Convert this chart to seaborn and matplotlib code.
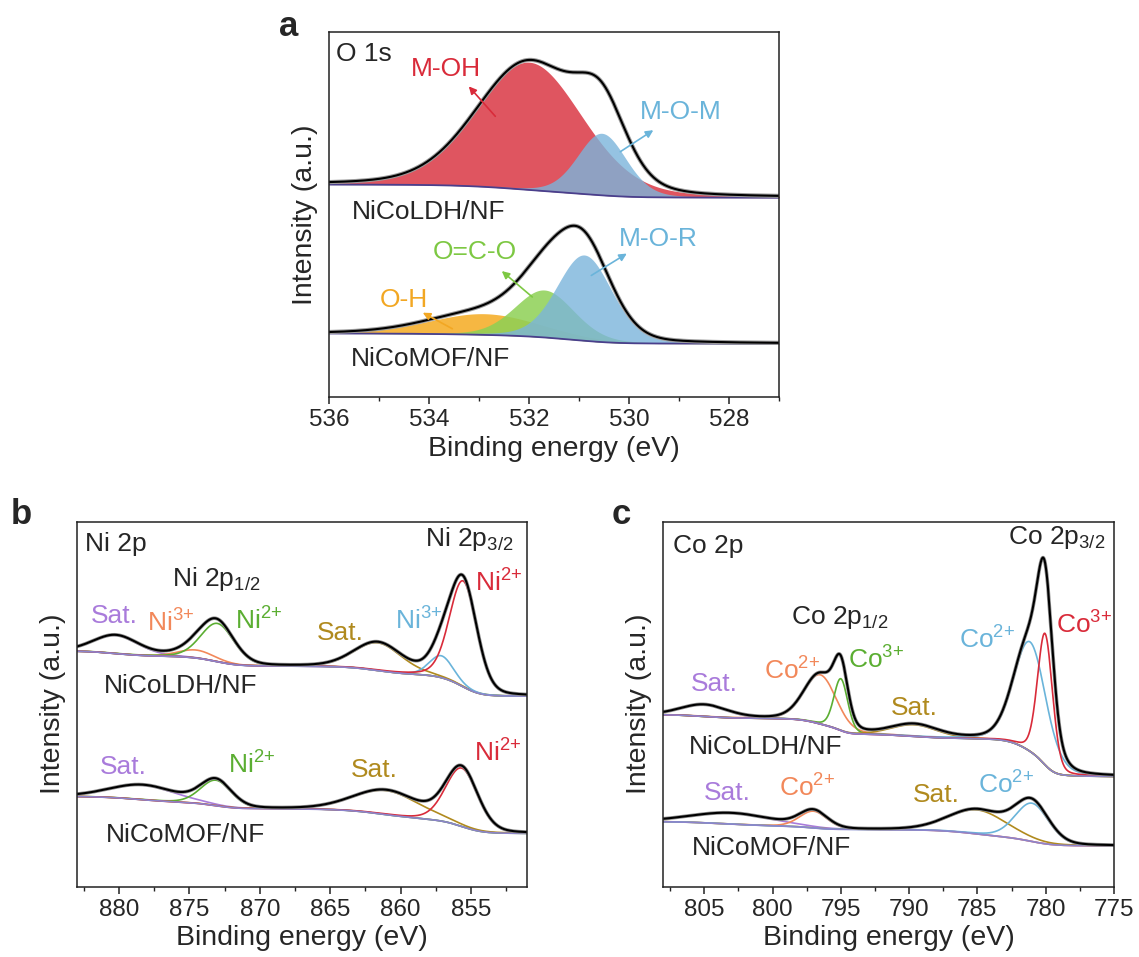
import numpy as np
import pandas as pd
import matplotlib
matplotlib.use("Agg")
import matplotlib.pyplot as plt
import seaborn as sns
from matplotlib.ticker import MultipleLocator

sns.set_theme(style="ticks")
plt.rcParams["font.family"] = ["Liberation Sans", "DejaVu Sans"]
plt.rcParams["mathtext.fontset"] = "custom"
plt.rcParams["mathtext.rm"] = "Liberation Sans"
plt.rcParams["mathtext.it"] = "Liberation Sans"
plt.rcParams["mathtext.bf"] = "Liberation Sans:bold"

# ---------------- data ----------------
# Panel a : O 1s  (centre eV, height, FWHM eV); background [high-BE end, low-BE end]
o1s_ldh_labels = ["M-OH", "M-O-M"]
o1s_ldh_center = [532.0, 530.55]
o1s_ldh_height = [0.35, 0.17]
o1s_ldh_fwhm = [2.5, 1.15]
o1s_ldh_bg = [0.582, 0.546]

o1s_mof_labels = ["O-H", "O=C-O", "M-O-R"]
o1s_mof_center = [532.9, 531.7, 530.9]
o1s_mof_height = [0.058, 0.13, 0.235]
o1s_mof_fwhm = [2.6, 1.4, 1.3]
o1s_mof_bg = [0.174, 0.146]

# Panel b : Ni 2p
ni_ldh_labels = ["Sat.", "Ni3+", "Ni2+", "Sat.", "Ni3+", "Ni2+"]
ni_ldh_center = [880.2, 874.5, 873.0, 861.6, 857.1, 855.55]
ni_ldh_height = [0.05, 0.022, 0.105, 0.076, 0.06, 0.29]
ni_ldh_fwhm = [3.8, 3.0, 2.8, 4.0, 2.0, 2.3]
ni_ldh_bg = [0.645, 0.522]

ni_mof_labels = ["Sat.", "Ni2+", "Sat.", "Ni2+"]
ni_mof_center = [878.3, 873.1, 861.0, 855.65]
ni_mof_height = [0.04, 0.07, 0.066, 0.16]
ni_mof_fwhm = [5.5, 2.6, 5.5, 2.7]
ni_mof_bg = [0.247, 0.146]

# Panel c : Co 2p
co_ldh_labels = ["Sat.", "Co2+", "Co3+", "Sat.", "Co2+", "Co3+"]
co_ldh_center = [805.0, 796.5, 795.0, 789.6, 781.15, 780.05]
co_ldh_height = [0.032, 0.135, 0.142, 0.032, 0.30, 0.36]
co_ldh_fwhm = [4.0, 2.8, 1.2, 4.0, 2.8, 1.3]
co_ldh_bg = [0.471, 0.302]

co_mof_labels = ["Sat.", "Co2+", "Sat.", "Co2+"]
co_mof_center = [803.0, 797.0, 785.0, 781.0]
co_mof_height = [0.03, 0.046, 0.066, 0.105]
co_mof_fwhm = [7.0, 2.4, 5.0, 2.9]
co_mof_bg = [0.178, 0.112]

# ---------------- styles ----------------
C_PURPLE = "#A97BDB"
C_ORANGE = "#F2885A"
C_GREEN = "#5BAE32"
C_OLIVE = "#B08A1E"
C_BLUE = "#6AB4DA"
C_RED = "#D92B3A"
C_BG_A = "#4A3F8C"
C_BG = "#8C84CC"
FILL_RED = "#DE4C57"
FILL_BLUE = "#7BB5DB"
FILL_GREEN = "#8DD055"
FILL_ORANGE = "#F5AF2D"

FS_TICK = 17.5
FS_LABEL = 20.5
FS_TXT = 19


def pv(x, c, h, w, eta=0.2):
    d = (x - c) / w
    return h * ((1 - eta) * np.exp(-4 * np.log(2) * d ** 2) + eta / (1 + 4 * d ** 2))


def build(x, centers, heights, fwhms, bg):
    comps = [pv(x, c, h, w) for c, h, w in zip(centers, heights, fwhms)]
    total = np.sum(comps, axis=0)
    # Shirley-type background (x ascending)
    cum = np.concatenate([[0], np.cumsum((total[1:] + total[:-1]) / 2 * np.diff(x))])
    frac = cum / cum[-1]
    back = bg[1] + (bg[0] - bg[1]) * frac
    return comps, total, back


def line(ax, x, y, color, lw):
    df = pd.DataFrame({"x": x, "y": y})
    sns.lineplot(data=df, x="x", y="y", ax=ax, color=color, lw=lw,
                 sort=False, estimator=None, legend=False)


def style_axis(ax, xlim, major, minor):
    ax.set_xlim(*xlim)
    ax.set_ylim(0, 1)
    ax.xaxis.set_major_locator(MultipleLocator(major))
    ax.xaxis.set_minor_locator(MultipleLocator(minor))
    ax.set_yticks([])
    ax.tick_params(axis="x", which="major", direction="out", length=5, width=1.1,
                   labelsize=FS_TICK, pad=4, color="#222222")
    ax.tick_params(axis="x", which="minor", direction="out", length=2.6, width=1.0,
                   color="#222222")
    for s in ax.spines.values():
        s.set_visible(True)
        s.set_linewidth(1.1)
        s.set_color("#222222")
    ax.set_xlabel("Binding energy (eV)", fontsize=FS_LABEL, labelpad=3)
    ax.set_ylabel("Intensity (a.u.)", fontsize=FS_LABEL, labelpad=8)
    ax.set_facecolor("white")


fig = plt.figure(figsize=(11.39, 9.57), dpi=100)
fig.patch.set_facecolor("white")
W, H = 1139.0, 957.0
ax_a = fig.add_axes([329.3 / W, 1 - 397 / H, 450 / W, 365 / H])
ax_b = fig.add_axes([76.7 / W, 1 - 886.7 / H, 450.6 / W, 365 / H])
ax_c = fig.add_axes([663.3 / W, 1 - 886.7 / H, 450.7 / W, 365 / H])

# ---------------- panel a ----------------
xa = np.linspace(527.0, 536.0, 1200)
for centers, heights, fwhms, bg, fills in [
    (o1s_ldh_center, o1s_ldh_height, o1s_ldh_fwhm, o1s_ldh_bg, [(FILL_RED, 0.95), (FILL_BLUE, 0.8)]),
    (o1s_mof_center, o1s_mof_height, o1s_mof_fwhm, o1s_mof_bg,
     [(FILL_ORANGE, 0.9), (FILL_GREEN, 0.85), (FILL_BLUE, 0.8)]),
]:
    comps, total, back = build(xa, centers, heights, fwhms, bg)
    for comp, (fc, al) in zip(comps, fills):
        ax_a.fill_between(xa, back, back + comp, color=fc, alpha=al, lw=0)
    line(ax_a, xa, back, C_BG_A, 1.3)
    line(ax_a, xa, back + total, "#9a9a9a", 3.0)
    line(ax_a, xa, back + total, "black", 1.5)

style_axis(ax_a, (536, 527), 2, 1)
ta = ax_a.get_xaxis_transform()
ax_a.text(0.016, 0.941, "O 1s", transform=ax_a.transAxes, fontsize=FS_TXT, va="center", ha="left")
ax_a.text(533.66, 0.90, o1s_ldh_labels[0], transform=ta, fontsize=FS_TXT, color=C_RED, ha="center", va="center")
ax_a.text(528.97, 0.781, o1s_ldh_labels[1], transform=ta, fontsize=FS_TXT, color=C_BLUE, ha="center", va="center")
ax_a.text(0.05, 0.507, "NiCoLDH/NF", transform=ax_a.transAxes, fontsize=FS_TXT, ha="left", va="center")
ax_a.text(529.41, 0.434, o1s_mof_labels[2], transform=ta, fontsize=FS_TXT, color=C_BLUE, ha="center", va="center")
ax_a.text(533.09, 0.397, o1s_mof_labels[1], transform=ta, fontsize=FS_TXT, color="#7DC843", ha="center", va="center")
ax_a.text(534.51, 0.265, o1s_mof_labels[0], transform=ta, fontsize=FS_TXT, color="#F2A723", ha="center", va="center")
ax_a.text(0.049, 0.105, "NiCoMOF/NF", transform=ax_a.transAxes, fontsize=FS_TXT, ha="left", va="center")

arrows_a = [
    ((532.68, 0.769), (533.21, 0.851), C_RED),
    ((530.18, 0.672), (529.52, 0.731), C_BLUE),
    ((530.76, 0.333), (530.05, 0.393), C_BLUE),
    ((531.94, 0.274), (532.55, 0.345), "#7DC843"),
    ((533.54, 0.187), (534.13, 0.231), "#F2A723"),
]
for (x0, y0), (x1, y1), col in arrows_a:
    ax_a.annotate("", xy=(x1, y1), xytext=(x0, y0), xycoords=ta, textcoords=ta,
                  arrowprops=dict(arrowstyle="-|>", color=col, lw=1.2, mutation_scale=11,
                                  shrinkA=0, shrinkB=0))

# ---------------- panels b and c ----------------
def draw_panel(ax, x, sets):
    for centers, heights, fwhms, bg, colors in sets:
        comps, total, back = build(x, centers, heights, fwhms, bg)
        for comp, col in zip(comps, colors):
            line(ax, x, back + comp, col, 1.2)
        line(ax, x, back, C_BG, 1.2)
        line(ax, x, back + total, "#8f8f8f", 2.6)
        line(ax, x, back + total, "black", 1.5)


xb = np.linspace(851.0, 883.0, 1600)
draw_panel(ax_b, xb, [
    (ni_ldh_center, ni_ldh_height, ni_ldh_fwhm, ni_ldh_bg,
     [C_PURPLE, C_ORANGE, C_GREEN, C_OLIVE, C_BLUE, C_RED]),
    (ni_mof_center, ni_mof_height, ni_mof_fwhm, ni_mof_bg,
     [C_PURPLE, C_GREEN, C_OLIVE, C_RED]),
])
style_axis(ax_b, (883, 851), 5, 2.5)

xc = np.linspace(775.0, 808.0, 1650)
draw_panel(ax_c, xc, [
    (co_ldh_center, co_ldh_height, co_ldh_fwhm, co_ldh_bg,
     [C_PURPLE, C_ORANGE, C_GREEN, C_OLIVE, C_BLUE, C_RED]),
    (co_mof_center, co_mof_height, co_mof_fwhm, co_mof_bg,
     [C_PURPLE, C_ORANGE, C_OLIVE, C_BLUE]),
])
style_axis(ax_c, (808, 775), 5, 2.5)


def ion(lbl):
    base, num, sign = lbl[:2], lbl[2:-1], lbl[-1]
    return base + r"$^{" + num + "{" + sign + "}}$"


tb = ax_b.get_xaxis_transform()
ax_b.text(0.019, 0.938, "Ni 2p", transform=ax_b.transAxes, fontsize=FS_TXT, ha="left", va="center")
ax_b.text(855.1, 0.952, r"Ni 2p$_{3/2}$", transform=tb, fontsize=FS_TXT, ha="center", va="center")
ax_b.text(873.1, 0.842, r"Ni 2p$_{1/2}$", transform=tb, fontsize=FS_TXT, ha="center", va="center")
ax_b.text(0.06, 0.549, "NiCoLDH/NF", transform=ax_b.transAxes, fontsize=FS_TXT, ha="left", va="center")
ax_b.text(0.064, 0.142, "NiCoMOF/NF", transform=ax_b.transAxes, fontsize=FS_TXT, ha="left", va="center")
b_labels = [
    (880.3, 0.741, ni_ldh_labels[0], C_PURPLE),
    (876.3, 0.723, ni_ldh_labels[1], C_ORANGE),
    (870.1, 0.727, ni_ldh_labels[2], C_GREEN),
    (864.3, 0.695, ni_ldh_labels[3], C_OLIVE),
    (858.7, 0.727, ni_ldh_labels[4], C_BLUE),
    (853.0, 0.833, ni_ldh_labels[5], C_RED),
    (879.7, 0.329, ni_mof_labels[0], C_PURPLE),
    (870.6, 0.334, ni_mof_labels[1], C_GREEN),
    (861.9, 0.320, ni_mof_labels[2], C_OLIVE),
    (853.1, 0.366, ni_mof_labels[3], C_RED),
]
for x, y, s, col in b_labels:
    txt = s if s.startswith("Sat") else ion(s)
    ax_b.text(x, y, txt, transform=tb, fontsize=FS_TXT, color=col, ha="center", va="center")

tc = ax_c.get_xaxis_transform()
ax_c.text(0.021, 0.933, "Co 2p", transform=ax_c.transAxes, fontsize=FS_TXT, ha="left", va="center")
ax_c.text(779.2, 0.956, r"Co 2p$_{3/2}$", transform=tc, fontsize=FS_TXT, ha="center", va="center")
ax_c.text(795.1, 0.737, r"Co 2p$_{1/2}$", transform=tc, fontsize=FS_TXT, ha="center", va="center")
ax_c.text(0.056, 0.384, "NiCoLDH/NF", transform=ax_c.transAxes, fontsize=FS_TXT, ha="left", va="center")
ax_c.text(0.063, 0.105, "NiCoMOF/NF", transform=ax_c.transAxes, fontsize=FS_TXT, ha="left", va="center")
c_labels = [
    (804.3, 0.554, co_ldh_labels[0], C_PURPLE),
    (798.55, 0.590, co_ldh_labels[1], C_ORANGE),
    (792.4, 0.622, co_ldh_labels[2], C_GREEN),
    (789.6, 0.489, co_ldh_labels[3], C_OLIVE),
    (784.3, 0.677, co_ldh_labels[4], C_BLUE),
    (777.2, 0.718, co_ldh_labels[5], C_RED),
    (803.3, 0.256, co_mof_labels[0], C_PURPLE),
    (797.5, 0.270, co_mof_labels[1], C_ORANGE),
    (788.0, 0.252, co_mof_labels[2], C_OLIVE),
    (782.9, 0.279, co_mof_labels[3], C_BLUE),
]
for x, y, s, col in c_labels:
    txt = s if s.startswith("Sat") else ion(s)
    ax_c.text(x, y, txt, transform=tc, fontsize=FS_TXT, color=col, ha="center", va="center")

# panel letters
fig.text(289 / W, 1 - 27 / H, "a", fontsize=25, fontweight="bold", ha="center", va="center")
fig.text(21 / W, 1 - 514 / H, "b", fontsize=25, fontweight="bold", ha="center", va="center")
fig.text(621 / W, 1 - 514 / H, "c", fontsize=25, fontweight="bold", ha="center", va="center")

fig.savefig("out.png", dpi=100, facecolor="white")
